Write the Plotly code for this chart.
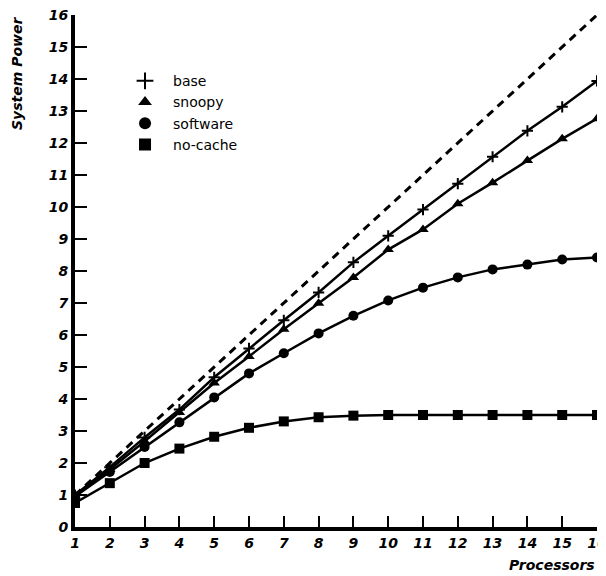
import plotly.graph_objects as go

processors = list(range(1, 17))
ideal = [float(p) for p in processors]
base = [1.0, 1.87, 2.8, 3.67, 4.68, 5.58, 6.46, 7.33, 8.27, 9.1, 9.92, 10.73, 11.57, 12.38, 13.13, 13.94]
snoopy = [1.0, 1.8, 2.68, 3.58, 4.5, 5.33, 6.18, 6.99, 7.8, 8.67, 9.3, 10.1, 10.76, 11.45, 12.13, 12.76]
software = [0.95, 1.72, 2.5, 3.27, 4.05, 4.8, 5.43, 6.05, 6.6, 7.08, 7.48, 7.8, 8.05, 8.2, 8.36, 8.42]
nocache = [0.75, 1.37, 2.0, 2.45, 2.82, 3.1, 3.3, 3.43, 3.48, 3.5, 3.5, 3.5, 3.5, 3.5, 3.5, 3.5]

series = [
    ("base", base, "cross-thin", 8),
    ("snoopy", snoopy, "triangle-up", 10),
    ("software", software, "circle", 10),
    ("no-cache", nocache, "square", 10),
]

fig = go.Figure()
fig.add_trace(go.Scatter(x=processors, y=ideal, mode="lines",
                         line=dict(color="black", width=3, dash="8px,6px"),
                         showlegend=False, hoverinfo="skip"))
for name, vals, sym, sz in series:
    fig.add_trace(go.Scatter(x=processors, y=vals, mode="lines+markers",
                             line=dict(color="black", width=2.5),
                             marker=dict(symbol=sym, size=sz, color="black",
                                         line=dict(color="black", width=2 if sym == "cross-thin" else 0)),
                             showlegend=False))
    fig.add_trace(go.Scatter(x=[None], y=[None], mode="markers", name=name,
                             marker=dict(symbol=sym, size=(10 if sym == "cross-thin" else sz), color="black",
                                         line=dict(color="black", width=1.5 if sym == "cross-thin" else 0)),
                             showlegend=True))

tickfont = dict(family="DejaVu Sans", size=14, color="black", weight="bold", style="italic")
titlefont = dict(family="DejaVu Sans", size=14, color="black", weight="bold", style="italic")
fig.update_layout(
    width=606, height=576,
    margin=dict(l=67, r=17, t=7, b=57),
    paper_bgcolor="white", plot_bgcolor="white",
    showlegend=True,
    legend=dict(x=0.0805, y=0.902, xanchor="left", yanchor="top", itemwidth=46,
                font=dict(family="DejaVu Sans", size=14, color="black"),
                bgcolor="rgba(0,0,0,0)", tracegroupgap=0, itemsizing="constant"),
    xaxis=dict(range=[1, 16], tickvals=processors, showgrid=False, zeroline=False,
               showline=True, linecolor="black", linewidth=4, automargin=False,
               ticks="inside", ticklen=11, tickwidth=2, tickcolor="black",
               tickfont=tickfont, ticklabeloverflow="allow"),
    yaxis=dict(range=[0, 16], tickvals=list(range(0, 17)), showgrid=False, zeroline=False,
               showline=True, linecolor="black", linewidth=4, automargin=False,
               ticks="inside", ticklen=12, tickwidth=2, tickcolor="black",
               tickfont=tickfont, ticklabeloverflow="allow"),
    annotations=[
        dict(text="System Power", xref="paper", yref="paper", x=-0.112, y=1.0,
             xanchor="center", yanchor="top", textangle=-90, showarrow=False,
             font=titlefont),
        dict(text="Processors", xref="paper", yref="paper", x=1.0, y=-0.055,
             xanchor="right", yanchor="top", showarrow=False,
             font=titlefont),
    ],
)
fig.write_html("out.html")
